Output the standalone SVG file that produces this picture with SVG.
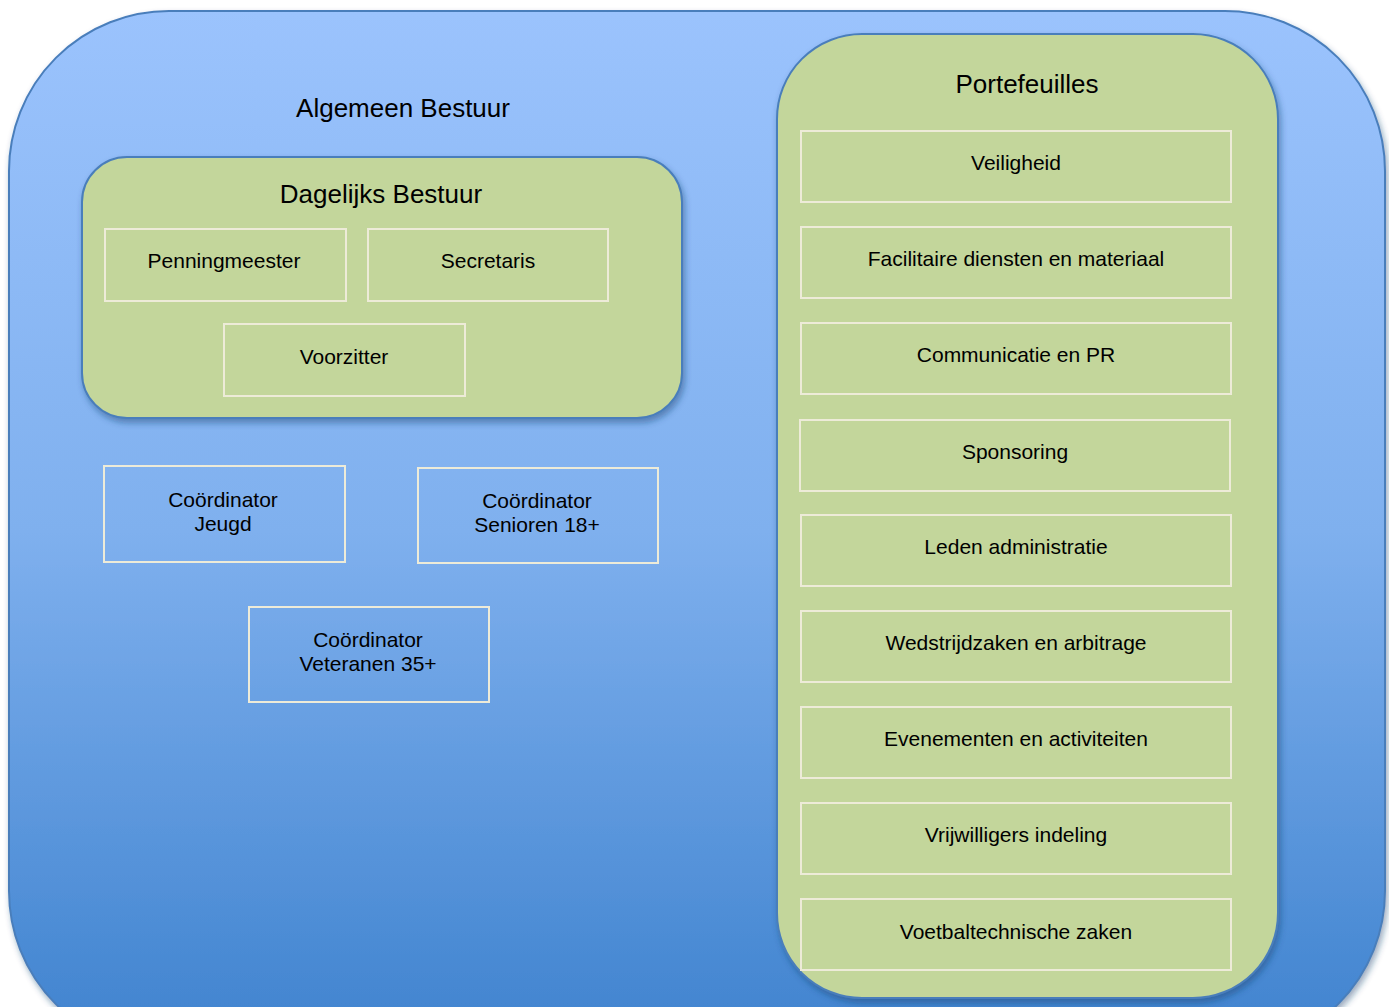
<svg xmlns="http://www.w3.org/2000/svg" width="1389" height="1007" viewBox="0 0 1389 1007">
<defs>
<linearGradient id="bg" x1="0" y1="0" x2="0" y2="1">
<stop offset="0" stop-color="#9BC3FD"/>
<stop offset="0.5" stop-color="#7FB0EE"/>
<stop offset="1" stop-color="#3E82CE"/>
</linearGradient>
<filter id="sh" x="-5%" y="-5%" width="110%" height="110%">
<feDropShadow dx="2" dy="4" stdDeviation="3" flood-color="#1F3F6F" flood-opacity="0.45"/>
</filter>
<style>
.frame{stroke:#4A7EBB;stroke-width:2}
.green{fill:#C3D69B;stroke:#4A7EBB;stroke-width:2}
.box{fill:none;stroke:#EDEBD8;stroke-width:2}
text{font-family:"Liberation Sans",Arial,sans-serif;fill:#000;text-anchor:middle}
.t{font-size:21px}
.h{font-size:26px}
</style>
</defs>
<g id="algemeen-bestuur">
<rect class="frame" x="9" y="11" width="1376" height="1040" rx="160" ry="160" fill="url(#bg)" filter="url(#sh)"/>
<text class="h" x="403" y="117">Algemeen Bestuur</text>
</g>
<g id="dagelijks-bestuur">
<rect class="green" x="82" y="157" width="600" height="261" rx="45" ry="45" filter="url(#sh)"/>
<text class="h" x="381" y="203">Dagelijks Bestuur</text>
</g>
<g id="penningmeester"><rect class="box" x="105" y="229" width="241" height="72"/><text class="t" x="224" y="268">Penningmeester</text></g>
<g id="secretaris"><rect class="box" x="368" y="229" width="240" height="72"/><text class="t" x="488" y="268">Secretaris</text></g>
<g id="voorzitter"><rect class="box" x="224" y="324" width="241" height="72"/><text class="t" x="344" y="364">Voorzitter</text></g>
<g id="coordinator-jeugd"><rect class="box" x="104" y="466" width="241" height="96"/><text class="t" x="223" y="507">Coördinator</text><text class="t" x="223" y="531">Jeugd</text></g>
<g id="coordinator-senioren"><rect class="box" x="418" y="468" width="240" height="95"/><text class="t" x="537" y="508">Coördinator</text><text class="t" x="537" y="532">Senioren 18+</text></g>
<g id="coordinator-veteranen"><rect class="box" x="249" y="607" width="240" height="95"/><text class="t" x="368" y="647">Coördinator</text><text class="t" x="368" y="671">Veteranen 35+</text></g>
<g id="portefeuilles">
<rect class="green" x="777" y="34" width="501" height="964" rx="85" ry="85" filter="url(#sh)"/>
<text class="h" x="1027" y="93">Portefeuilles</text>
</g>
<g id="veiligheid"><rect class="box" x="801" y="131" width="430" height="71"/><text class="t" x="1016" y="170">Veiligheid</text></g>
<g id="facilitaire"><rect class="box" x="801" y="227" width="430" height="71"/><text class="t" x="1016" y="266">Facilitaire diensten en materiaal</text></g>
<g id="communicatie"><rect class="box" x="801" y="323" width="430" height="71"/><text class="t" x="1016" y="362">Communicatie en PR</text></g>
<g id="sponsoring"><rect class="box" x="800" y="420" width="430" height="71"/><text class="t" x="1015" y="459">Sponsoring</text></g>
<g id="leden"><rect class="box" x="801" y="515" width="430" height="71"/><text class="t" x="1016" y="554">Leden administratie</text></g>
<g id="wedstrijdzaken"><rect class="box" x="801" y="611" width="430" height="71"/><text class="t" x="1016" y="650">Wedstrijdzaken en arbitrage</text></g>
<g id="evenementen"><rect class="box" x="801" y="707" width="430" height="71"/><text class="t" x="1016" y="746">Evenementen en activiteiten</text></g>
<g id="vrijwilligers"><rect class="box" x="801" y="803" width="430" height="71"/><text class="t" x="1016" y="842">Vrijwilligers indeling</text></g>
<g id="voetbaltechnische"><rect class="box" x="801" y="899" width="430" height="71"/><text class="t" x="1016" y="939">Voetbaltechnische zaken</text></g>
<g id="connectors"></g>
</svg>
